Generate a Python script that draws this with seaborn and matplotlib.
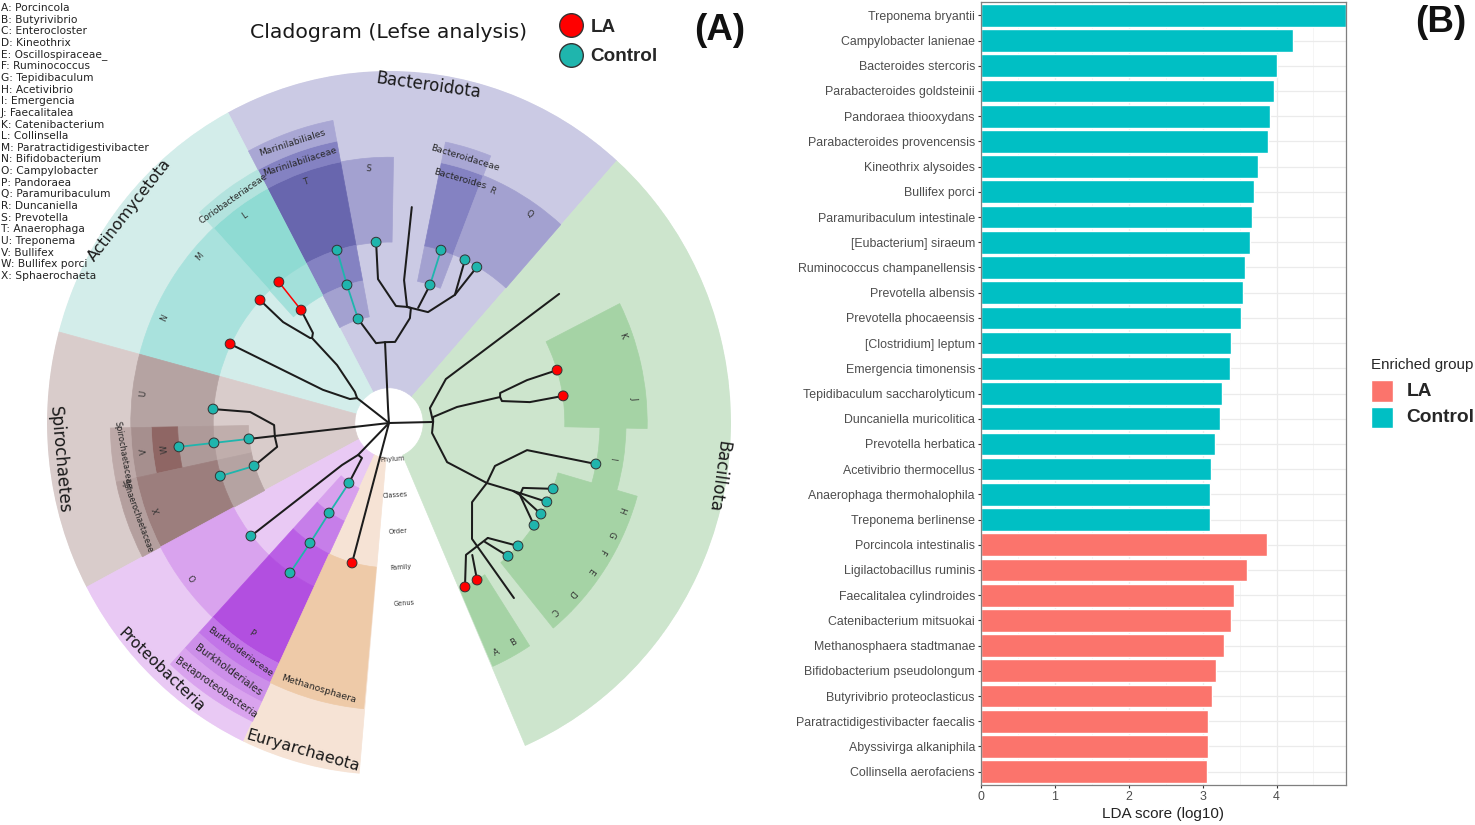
# Cladogram (LEfSe) next to the LDA score barplot
import numpy as np
import pandas as pd
import seaborn as sns
import matplotlib.pyplot as plt
from matplotlib.lines import Line2D
from matplotlib.ticker import MultipleLocator

W, H = 1475, 825

# ---- panel B data ----
species = ["Treponema bryantii", "Campylobacter lanienae", "Bacteroides stercoris",
           "Parabacteroides goldsteinii", "Pandoraea thiooxydans", "Parabacteroides provencensis",
           "Kineothrix alysoides", "Bullifex porci", "Paramuribaculum intestinale",
           "[Eubacterium] siraeum", "Ruminococcus champanellensis", "Prevotella albensis",
           "Prevotella phocaeensis", "[Clostridium] leptum", "Emergencia timonensis",
           "Tepidibaculum saccharolyticum", "Duncaniella muricolitica", "Prevotella herbatica",
           "Acetivibrio thermocellus", "Anaerophaga thermohalophila", "Treponema berlinense",
           "Porcincola intestinalis", "Ligilactobacillus ruminis", "Faecalitalea cylindroides",
           "Catenibacterium mitsuokai", "Methanosphaera stadtmanae", "Bifidobacterium pseudolongum",
           "Butyrivibrio proteoclasticus", "Paratractidigestivibacter faecalis",
           "Abyssivirga alkaniphila", "Collinsella aerofaciens"]
lda_scores = [4.94, 4.22, 4.00, 3.96, 3.91, 3.89, 3.75, 3.69, 3.67, 3.64, 3.57, 3.54, 3.52,
              3.38, 3.37, 3.26, 3.23, 3.17, 3.11, 3.10, 3.10,
              3.87, 3.60, 3.42, 3.39, 3.29, 3.18, 3.12, 3.07, 3.07, 3.06]
enriched = ["Control"] * 21 + ["LA"] * 10

# ---- panel A data: sectors, degrees and fraction of the outer radius ----
sector_names = ["Bacteroidota", "Actinomycetota", "Spirochaetes", "Proteobacteria", "Euryarchaeota", "Bacillota",
                "S", "T", "Marinilabiliaceae", "Marinilabiliales", "T family", "T order",
                "Bacteroides order", "Bacteroides", "Bacteroidaceae", "R", "Q",
                "L family", "L", "Coriobacteriaceae", "M", "N",
                "U", "Spiro family", "Spiro genus", "W", "V", "Spirochaetaceae",
                "X family", "X", "Sphaerochaetaceae",
                "O", "P class", "P order", "P family", "P", "Burkholderiaceae", "Burkholderiales", "Betaproteobacteria",
                "Methanosphaera",
                "K", "J", "I", "H", "G", "F", "E", "D", "C", "B", "A"]
sector_start = [48.2, 118.1, 165, 207.8, 244.8, -66.5,
                89, 100.8, 100.8, 100.8, 100.8, 100.8,
                68.6, 68.6, 68.6, 62.4, 48.3,
                118.1, 118.1, 118.1, 132.8, 146,
                165, 181, 181, 181, 181, 181,
                191.9, 191.9, 191.9,
                207.8, 227, 227, 227, 227, 227, 227, 227,
                244.8,
                12.9, -1.2, -16, -23.6, -27.8, -32.3, -38.6, -45.1, -50.5, -62, -66.3]
sector_end = [118.1, 165, 207.8, 244.8, 265, 48.2,
              100.8, 118, 118, 118, 118, 118,
              78.3, 78.3, 78.3, 68.6, 62.4,
              132.8, 132.8, 132.8, 146, 165,
              181, 191.9, 191.9, 191.9, 191.9, 191.9,
              207.8, 207.8, 207.8,
              227, 244.8, 244.8, 244.8, 244.8, 244.8, 244.8, 244.8,
              264.8,
              26.7, 12.9, -1.2, -16, -23.6, -27.8, -32.3, -38.6, -45.1, -57, -62]
sector_inner = [0.1, 0.1, 0.1, 0.1, 0.1, 0.1,
                0.514, 0.514, 0.755, 0.815, 0.411, 0.307,
                0.411, 0.514, 0.755, 0.514, 0.514,
                0.411, 0.514, 0.755, 0.514, 0.514,
                0.514, 0.411, 0.514, 0.618, 0.695, 0.755,
                0.411, 0.514, 0.755,
                0.514, 0.205, 0.308, 0.411, 0.514, 0.755, 0.815, 0.875,
                0.411,
                0.514, 0.514, 0.617, 0.514, 0.514, 0.514, 0.514, 0.514, 0.514, 0.514, 0.514]
sector_outer = [1, 1, 1, 1, 1, 1,
                0.755, 0.755, 0.815, 0.875, 0.514, 0.411,
                0.514, 0.755, 0.815, 0.755, 0.755,
                0.514, 0.755, 0.815, 0.755, 0.755,
                0.755, 0.514, 0.618, 0.695, 0.755, 0.815,
                0.514, 0.755, 0.815,
                0.755, 0.308, 0.411, 0.514, 0.755, 0.815, 0.875, 0.937,
                0.815,
                0.755, 0.755, 0.693, 0.755, 0.755, 0.755, 0.755, 0.755, 0.755, 0.755, 0.755]

# clade nodes, degrees / fraction of outer radius
node_theta = [107.0, 107.4, 107.2, 94.2, 64.4, 59.9, 73.0, 72.8,
              128.7, 128.8, 137.2, 154.2,
              186.3, 186.3, 186.3, 197.2, 197.0, 175.6,
              218.5, 235.5, 235.6, 235.9, 235.8, 254.8,
              17.0, 8.6, -10.9, -21.3, -25.9, -30.2, -34.4, -42.8, -47.4, -60.0, -64.5]
node_r = [0.309, 0.411, 0.514, 0.515, 0.514, 0.512, 0.410, 0.514,
          0.411, 0.514, 0.514, 0.516,
          0.412, 0.515, 0.618, 0.413, 0.516, 0.516,
          0.516, 0.207, 0.310, 0.412, 0.515, 0.412,
          0.514, 0.515, 0.616, 0.515, 0.513, 0.514, 0.514, 0.514, 0.514, 0.515, 0.516]
node_group = ["Control"] * 8 + ["LA"] * 4 + ["Control"] * 11 + ["LA"] + \
             ["LA", "LA"] + ["Control"] * 7 + ["LA", "LA"]

# black tree branches as (theta, r) runs
bacteroidota_branches = [
    [(0, 0), (94, 0.037), (92.9, 0.230), (99.5, 0.230), (107.0, 0.309)],
    [(92.9, 0.230), (85.6, 0.231), (78.4, 0.304), (78.9, 0.333), (80.9, 0.334),
     (86.5, 0.333), (94.5, 0.410), (94.2, 0.515)],
    [(80.9, 0.334), (70.1, 0.335), (62.1, 0.412), (62.7, 0.434), (64.4, 0.514)],
    [(62.1, 0.412), (61.5, 0.436), (59.9, 0.512)],
    [(80.9, 0.334), (83.8, 0.408), (83.8, 0.617)],
    [(75.4, 0.338), (73.0, 0.410)],
]
actino_branches = [
    [(0, 0), (142.8, 0.117), (149.2, 0.133), (154, 0.215), (154.2, 0.516)],
    [(142.8, 0.117), (138.5, 0.133), (132.7, 0.224), (133, 0.330), (133.7, 0.334),
     (137.2, 0.422), (137.2, 0.514)],
    [(133, 0.330), (131, 0.339), (128.7, 0.411)],
]
spiro_branches = [
    [(0, 0), (186.3, 0.412)],
    [(186.8, 0.336), (181, 0.336), (175.6, 0.407), (175.6, 0.516)],
    [(186.8, 0.336), (191.7, 0.334), (197.2, 0.413)],
]
proteo_branches = [
    [(0, 0), (225.1, 0.128), (221, 0.182), (218.5, 0.516)],
    [(225.1, 0.128), (231.5, 0.127), (235.5, 0.207)],
]
eury_branches = [[(0, 0), (254.8, 0.412)]]
bacillota_branches = [
    [(0, 0), (1.3, 0.129), (19.5, 0.127), (36.9, 0.208), (36.4, 0.618)],
    [(1.3, 0.129), (7.5, 0.130), (12.9, 0.204), (12.8, 0.333), (14.7, 0.336), (16.8, 0.4215), (17.0, 0.514)],
    [(12.8, 0.333), (10.7, 0.336), (8.2, 0.416), (8.6, 0.515)],
    [(1.3, 0.129), (-12.7, 0.129), (-33.2, 0.203), (-30.8, 0.333), (-28, 0.411), (-28.1, 0.434), (-34.4, 0.514)],
    [(-28.1, 0.434), (-25.2, 0.433), (-21.3, 0.515)],
    [(-28, 0.411), (-25.9, 0.513)],
    [(-28.1, 0.434), (-30.2, 0.514)],
    [(-30.8, 0.333), (-21.5, 0.333), (-10.8, 0.411), (-10.9, 0.616)],
    [(-30.8, 0.333), (-42.8, 0.331), (-53.6, 0.409), (-53.7, 0.617)],
    [(-48.5, 0.436), (-42.8, 0.514)],
    [(-48.5, 0.436), (-59, 0.437), (-64.5, 0.516)],
    [(-50.3, 0.439), (-47.4, 0.514)],
    [(-57, 0.447), (-60.0, 0.515)],
]
control_links = [[(107.0, 0.309), (107.4, 0.411), (107.2, 0.514)], [(73.0, 0.410), (72.8, 0.514)],
                 [(186.3, 0.412), (186.3, 0.515), (186.3, 0.618)], [(197.2, 0.413), (197.0, 0.516)],
                 [(235.5, 0.207), (235.6, 0.310), (235.9, 0.412), (235.8, 0.515)]]
la_links = [[(128.7, 0.411), (128.8, 0.514)]]

# text on the cladogram
phylum_names = ["Bacteroidota", "Actinomycetota", "Spirochaetes", "Proteobacteria", "Euryarchaeota", "Bacillota"]
phylum_theta = [83.2, 141.4, 186.2, 226.5, 254.9, -8.9]
phylum_r = [0.967, 0.969, 0.968, 0.968, 0.965, 0.974]
phylum_rot = [-8, 52, -85, -44, -16, -98]
phylum_size = [12, 11.4, 12, 11.2, 11.5, 12.1]

clade_names = ["Marinilabiliales", "Marinilabiliaceae", "Coriobacteriaceae", "Bacteroidaceae", "Bacteroides",
               "Burkholderiaceae", "Burkholderiales", "Betaproteobacteria", "Methanosphaera",
               "Spirochaetaceae", "Sphaerochaetaceae"]
clade_theta = [109.5, 109.3, 125.6, 73.6, 73.3, 236.2, 236.1, 236.1, 254.8, 186.7, 199.7]
clade_r = [0.843, 0.785, 0.783, 0.785, 0.7236, 0.783, 0.845, 0.907, 0.783, 0.783, 0.783]
clade_rot = [18, 18, 35, -17, -16, -36, -36, -35, -17, -80, -70]
clade_size = [6.7, 6.5, 6.4, 6.6, 6.6, 6.4, 7.4, 7.3, 6.7, 5.9, 5.6]

letter_names = ["S", "T", "R", "Q", "L", "M", "N", "U", "V", "W", "X", "O", "P",
                "K", "J", "I", "H", "G", "F", "E", "D", "C", "B", "A"]
letter_theta = [94.8, 109.3, 65.4, 55.3, 125.6, 139.5, 155.6, 173.3, 186.5, 186.4, 200, 217.4, 236.1,
                19.9, 5.7, -8.9, -20, -25.9, -30.3, -35.5, -42, -47.9, -59.6, -64.3]
letter_r = [0.724, 0.725, 0.7245, 0.723, 0.723, 0.727, 0.7225, 0.724, 0.721, 0.659, 0.722, 0.721, 0.7186,
            0.7246, 0.72, 0.66, 0.722, 0.721, 0.7215, 0.7226, 0.721, 0.72, 0.7215, 0.722]
letter_rot = [-5, 19, -25, -35, 35, 50, 65, 83, 96, 96, 110, 127, -34,
              -70, -85, -99, -110, -116, -120, -125, -132, -138, 30, 25]

rank_names = ["Phylum", "Classes", "Order", "Family", "Genus"]
rank_r = [0.1026, 0.205, 0.308, 0.41, 0.513]
rank_theta = -85

key_lines = ["A: Porcincola", "B: Butyrivibrio", "C: Enterocloster", "D: Kineothrix", "E: Oscillospiraceae_",
             "F: Ruminococcus", "G: Tepidibaculum", "H: Acetivibrio", "I: Emergencia", "J: Faecalitalea",
             "K: Catenibacterium", "L: Collinsella", "M: Paratractidigestivibacter", "N: Bifidobacterium",
             "O: Campylobacter", "P: Pandoraea", "Q: Paramuribaculum", "R: Duncaniella", "S: Prevotella",
             "T: Anaerophaga", "U: Treponema", "V: Bullifex", "W: Bullifex porci", "X: Sphaerochaeta"]

# ---- colours ----
PHYLUM_COLORS = ["#cbcae4", "#d3edea", "#d9cccb", "#e9c9f4", "#f6e3d5", "#cde5cd"]
CLADE_COLORS = ["#a3a1d0", "#6866ae", "#8482c2", "#a9a7d4", "#8482c2", "#a3a1d0",
                "#a3a1d0", "#8482c2", "#a9a7d4", "#a3a1d0", "#a3a1d0",
                "#a3e0da", "#8fdbd3", "#b3e3de", "#a9e2dd", "#a9e2dd",
                "#b5a3a2", "#c0aeac", "#ae9a99", "#8f6664", "#a68f8e", "#bda9a8",
                "#b5a3a2", "#9c7e7d", "#b49f9e",
                "#d9a3ee", "#d7a0ed", "#c67ee9", "#ba5fe5", "#b24fe0", "#c275e8", "#cc8fe9", "#d9a3ee",
                "#eecaa8"] + ["#a5d3a5"] * 11
sector_colors = PHYLUM_COLORS + CLADE_COLORS
GROUP_COLORS = {"LA": "#fb746c", "Control": "#00bfc4"}
NODE_COLORS = {"LA": "#ff0000", "Control": "#1fb5ad"}

sns.set_theme(style="white")
plt.rcParams["font.family"] = ["DejaVu Sans"]

fig = plt.figure(figsize=(W / 100, H / 100), dpi=100)


def px_rect(left, top, right, bottom):
    return [left / W, 1 - bottom / H, (right - left) / W, (bottom - top) / H]


# ---- panel A ----
ax = fig.add_axes(px_rect(47, 71, 731, 775), projection="polar")
ax.set_aspect("auto")

for start, end, inner, outer, colour in zip(sector_start, sector_end, sector_inner, sector_outer, sector_colors):
    mid = np.radians((start + end) / 2)
    ax.bar(mid, outer - inner, width=np.radians(end - start), bottom=inner,
           color=colour, edgecolor=colour, linewidth=0.5, align="center", zorder=1)


def draw_runs(runs, colour, lw, z):
    for run in runs:
        thetas = np.radians([p[0] for p in run])
        radii = [p[1] for p in run]
        ax.plot(thetas, radii, color=colour, lw=lw, zorder=z, solid_joinstyle="round")


for runs in [bacteroidota_branches, actino_branches, spiro_branches, proteo_branches,
             eury_branches, bacillota_branches]:
    draw_runs(runs, "#1c1c1c", 1.45, 3)
draw_runs(control_links, NODE_COLORS["Control"], 1.3, 3)
draw_runs(la_links, NODE_COLORS["LA"], 1.1, 3)

nodes = pd.DataFrame({"theta": np.radians(node_theta), "r": node_r, "group": node_group})
sns.scatterplot(data=nodes, x="theta", y="r", hue="group", palette=NODE_COLORS, s=50,
                edgecolor="#333333", linewidth=0.7, legend=False, zorder=4, ax=ax)

for name, th, r, rot, size in zip(phylum_names, phylum_theta, phylum_r, phylum_rot, phylum_size):
    ax.text(np.radians(th), r, name, fontsize=size, rotation=rot, rotation_mode="anchor",
            ha="center", va="center", color="#1a1a1a", zorder=5)
for name, th, r, rot, size in zip(clade_names, clade_theta, clade_r, clade_rot, clade_size):
    ax.text(np.radians(th), r, name, fontsize=size, rotation=rot, rotation_mode="anchor",
            ha="center", va="center", color="#262626", zorder=5)
for name, th, r, rot in zip(letter_names, letter_theta, letter_r, letter_rot):
    ax.text(np.radians(th), r, name, fontsize=6.2, rotation=rot, rotation_mode="anchor",
            ha="center", va="center", color="#333333", zorder=5)
for name, r in zip(rank_names, rank_r):
    ax.text(np.radians(rank_theta), r, name, fontsize=4.8, rotation=4, rotation_mode="anchor",
            ha="center", va="center", color="#333333", zorder=5)

ax.set_xlim(0, 2 * np.pi)
ax.set_ylim(0, 1)
ax.set_xlabel("")
ax.set_ylabel("")
ax.axis("off")

for i, line in enumerate(key_lines):
    fig.text(1 / W, 1 - (8 + i * 11.65) / H, line, fontsize=7.62, color="#222222", ha="left", va="center")

fig.text(388 / W, 1 - 32 / H, "Cladogram (Lefse analysis)", fontsize=14.7, color="#1a1a1a", ha="center", va="center")
fig.text(720 / W, 1 - 30 / H, "(A)", fontsize=26.5, fontweight="bold", family="Liberation Sans",
         color="#111111", ha="center", va="center")
fig.text(1441 / W, 1 - 22 / H, "(B)", fontsize=26.5, fontweight="bold", family="Liberation Sans",
         color="#111111", ha="center", va="center")

clad_handles = [Line2D([], [], marker="o", ls="", ms=17, mfc=NODE_COLORS[g], mec="#333333", mew=1.0)
                for g in ["LA", "Control"]]
clad_legend = fig.legend(clad_handles, ["LA", "Control"], loc="center left",
                         bbox_to_anchor=(552.5 / W, 1 - 42 / H), frameon=False,
                         handletextpad=0.02, labelspacing=0.66, borderpad=0, borderaxespad=0,
                         prop={"family": "Liberation Sans", "weight": "bold", "size": 13.6})

# ---- panel B ----
bar_ax = fig.add_axes(px_rect(981, 2, 1346, 785))
df = pd.DataFrame({"species": species, "lda": lda_scores, "group": enriched})
sns.barplot(data=df, y="species", x="lda", hue="group", hue_order=["LA", "Control"], dodge=False,
            palette=GROUP_COLORS, width=0.9, saturation=1, ax=bar_ax, zorder=2)

bar_ax.set_xlim(0, 4.94)
bar_ax.set_ylim(len(species) - 0.47, -0.53)
bar_ax.xaxis.set_major_locator(MultipleLocator(1))
bar_ax.xaxis.set_minor_locator(MultipleLocator(0.5))
bar_ax.set_axisbelow(True)
bar_ax.grid(True, which="major", color="#ebebeb", lw=0.9)
bar_ax.grid(True, which="minor", axis="x", color="#f2f2f2", lw=0.5)
bar_ax.tick_params(axis="both", which="major", length=2.4, width=0.8, color="#333333", labelcolor="#4d4d4d",
                   labelsize=8.95, pad=2, left=True, bottom=True)
bar_ax.tick_params(axis="x", which="minor", length=0)
for label in bar_ax.get_xticklabels() + bar_ax.get_yticklabels():
    label.set_family("Liberation Sans")
bar_ax.set_ylabel("")
bar_ax.set_xlabel("LDA score (log10)", fontsize=11, family="Liberation Sans", color="#222222", labelpad=3)
for spine in bar_ax.spines.values():
    spine.set_color("#7f7f7f")
    spine.set_linewidth(0.9)

sns.move_legend(bar_ax, loc="upper left", bbox_to_anchor=((1371 - 981) / 365, 1 - (358 - 2) / 783),
                title="Enriched group", frameon=False, handlelength=1.41, handleheight=1.8,
                handletextpad=0.92, labelspacing=0.3, borderpad=0, borderaxespad=0, alignment="left")
legend = bar_ax.get_legend()
legend.get_title().set_fontsize(10.9)
legend.get_title().set_family("Liberation Sans")
for text in legend.get_texts():
    text.set_fontsize(13.8)
    text.set_fontweight("bold")
    text.set_family("Liberation Sans")
legend._legend_box.sep = 6  # gap under the legend title

fig.savefig("out.png", dpi=100)
